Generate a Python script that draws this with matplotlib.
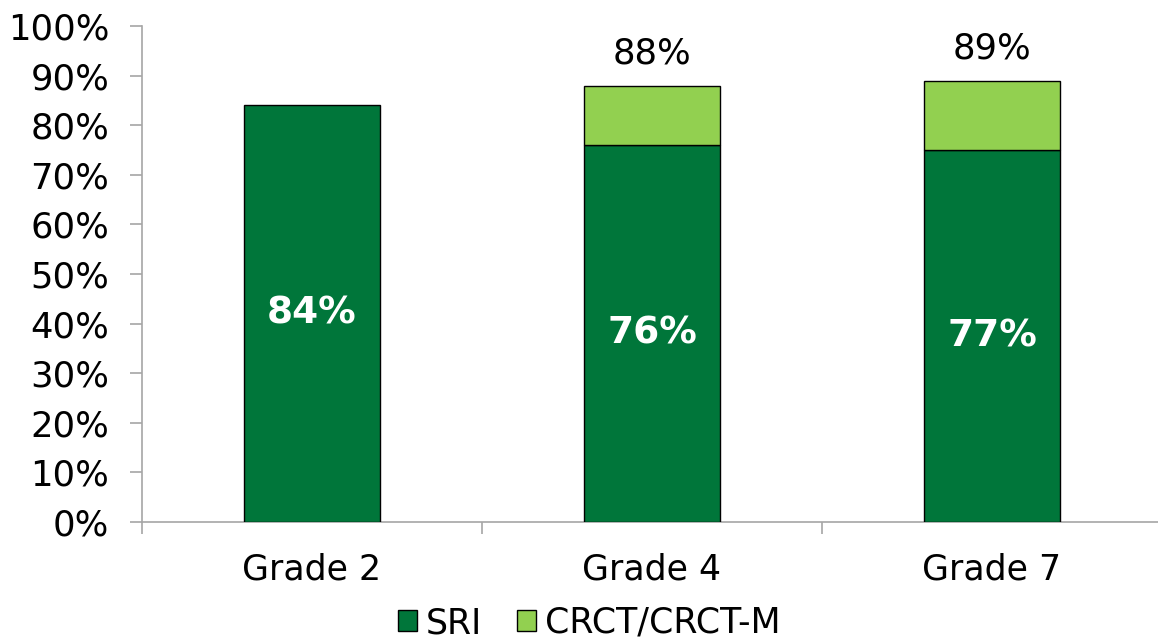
import matplotlib.pyplot as plt
import numpy as np

grades = ["Grade 2", "Grade 4", "Grade 7"]
sri = [84, 76, 75]
crct = [0, 12, 14]
sri_labels = ["84%", "76%", "77%"]
total_labels = ["", "88%", "89%"]

dark_green = "#00763A"
light_green = "#92D050"
axis_gray = "#A6A6A6"

plt.rcParams["font.family"] = ["DejaVu Sans"]

fig = plt.figure(figsize=(11.58, 6.43), dpi=100)
ax = fig.add_axes([142 / 1158, 1 - 522 / 643, 1020 / 1158, 496 / 643])

x = np.arange(len(grades))
bars_sri = ax.bar(x, sri, width=0.4, color=dark_green, edgecolor="black",
                  linewidth=1, label="SRI", zorder=3)
bars_crct = ax.bar(x, crct, width=0.4, bottom=sri, color=light_green,
                   edgecolor="black", linewidth=1, label="CRCT/CRCT-M", zorder=3)
# grade 2 has no CRCT part, hide the empty segment outline
bars_crct[0].set_visible(False)

for i in range(len(grades)):
    ax.text(x[i], sri[i] / 2, sri_labels[i], ha="center", va="center",
            color="white", fontsize=27, fontweight="bold", zorder=4)
    if total_labels[i]:
        ax.annotate(total_labels[i], (x[i], sri[i] + crct[i]),
                    xytext=(0, 23), textcoords="offset points",
                    ha="center", va="center", fontsize=25.5)

ax.set_xlim(-0.5, 2.5)
ax.set_ylim(0, 100)
ax.set_yticks(range(0, 101, 10))
ax.set_yticklabels([f"{v}%" for v in range(0, 101, 10)])
ax.set_xticks(x)
ax.set_xticklabels(grades)
ax.set_xticks([-0.5, 0.5, 1.5, 2.5], minor=True)

ax.tick_params(axis="y", labelsize=25.5, length=8.5, color=axis_gray, width=1.2, pad=15)
ax.tick_params(axis="x", which="major", labelsize=25, length=0, pad=22)
ax.tick_params(axis="x", which="minor", length=8.5, color=axis_gray, width=1.2)

for side in ["top", "right"]:
    ax.spines[side].set_visible(False)
for side in ["left", "bottom"]:
    ax.spines[side].set_color(axis_gray)
    ax.spines[side].set_linewidth(1.2)

fig.legend(handles=[bars_sri[0], bars_crct[1]], labels=["SRI", "CRCT/CRCT-M"],
           loc="center", bbox_to_anchor=(589 / 1158, 1 - 623 / 643), ncol=2,
           frameon=False, fontsize=25, handlelength=0.55, handleheight=0.55,
           handletextpad=0.25, columnspacing=1.0, borderaxespad=0)

fig.savefig("out.png", dpi=100)
